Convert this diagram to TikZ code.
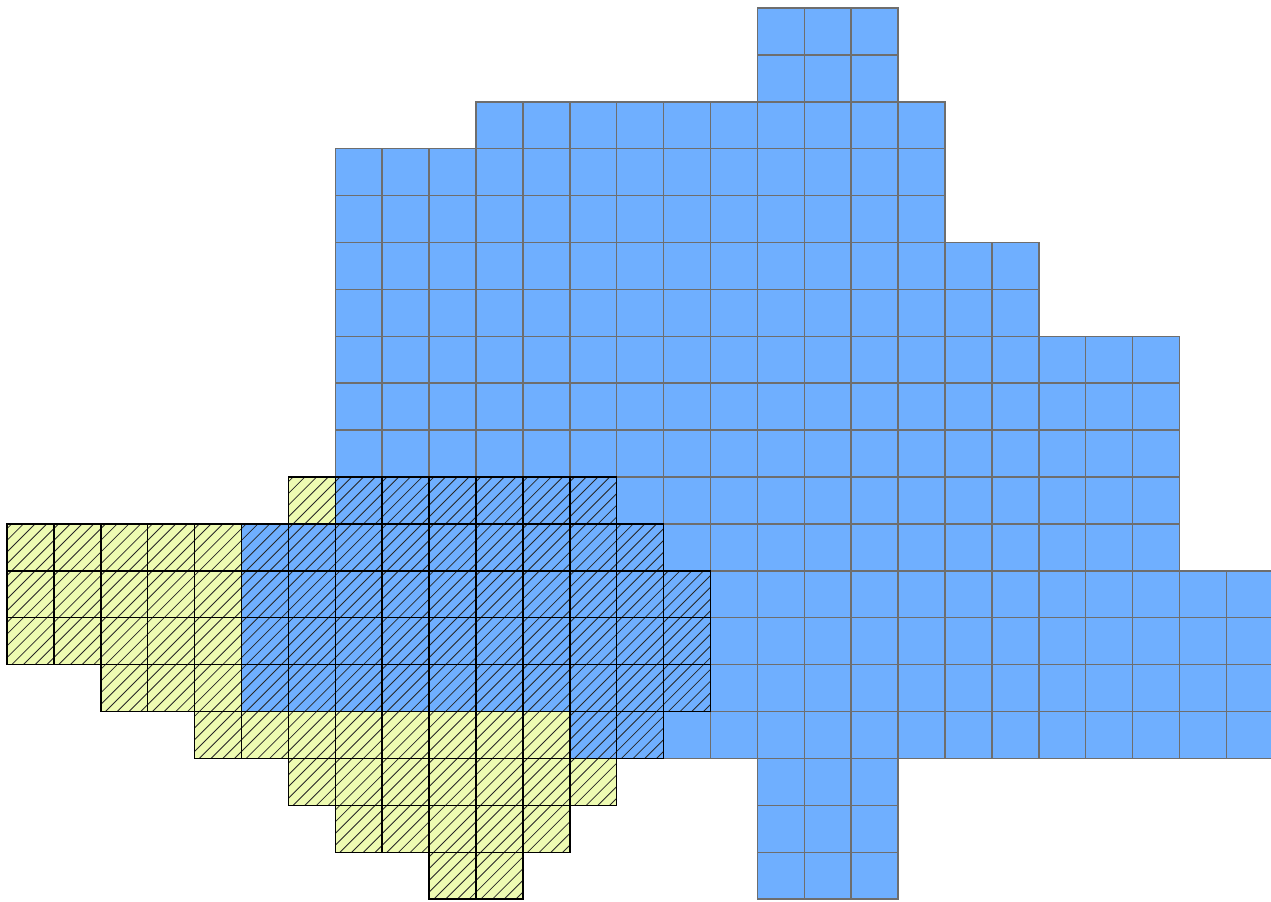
\documentclass[tikz,border=0pt]{standalone}
\definecolor{cblue}{RGB}{111,175,255}
\definecolor{cyel}{RGB}{238,251,178}
\definecolor{cgray}{RGB}{110,110,110}
\begin{document}
\begin{tikzpicture}[x=1cm,y=-1cm,
  bluecell/.style={fill=cblue,draw=cgray,line width=0.9pt},
  yelcell/.style={fill=cyel,draw=none},
  hatchline/.style={draw=black!85,line width=0.5pt},
  hatchborder/.style={draw=black,line width=0.9pt}]
\useasboundingbox (-0.149,-0.171) rectangle (26.95,19.06);
% yellow base of hatched region
\foreach \r/\a/\b in {10/6/12,11/0/13,12/0/14,13/0/14,14/2/14,15/4/13,16/6/12,17/7/11,18/9/10}{
  \foreach \c in {\a,...,\b}{ \fill[cyel] (\c,\r) rectangle ++(1,1); }
}
% blue region
\foreach \r/\a/\b in {0/16/18,1/16/18,2/10/19,3/7/19,4/7/19,5/7/21,6/7/21,7/7/24,8/7/24,9/7/24,10/7/24,11/5/24,12/5/26,13/5/26,14/5/26,15/12/26,16/16/18,17/16/18,18/16/18}{
  \foreach \c in {\a,...,\b}{ \draw[bluecell] (\c,\r) rectangle ++(1,1); }
}
% hatching
\begin{scope}
\clip \foreach \r/\a/\b in {10/6/12,11/0/13,12/0/14,13/0/14,14/2/14,15/4/13,16/6/12,17/7/11,18/9/10}{ (\a,\r) rectangle (\b+1,\r+1) };
\foreach \k in {0,...,100}{
  \draw[hatchline] ({\k*0.25-10},19.1) -- ({\k*0.25-0.9},10);
}
\end{scope}
% black borders of hatched cells
\foreach \r/\a/\b in {10/6/12,11/0/13,12/0/14,13/0/14,14/2/14,15/4/13,16/6/12,17/7/11,18/9/10}{
  \foreach \c in {\a,...,\b}{ \draw[hatchborder] (\c,\r) rectangle ++(1,1); }
}
\end{tikzpicture}
\end{document}
